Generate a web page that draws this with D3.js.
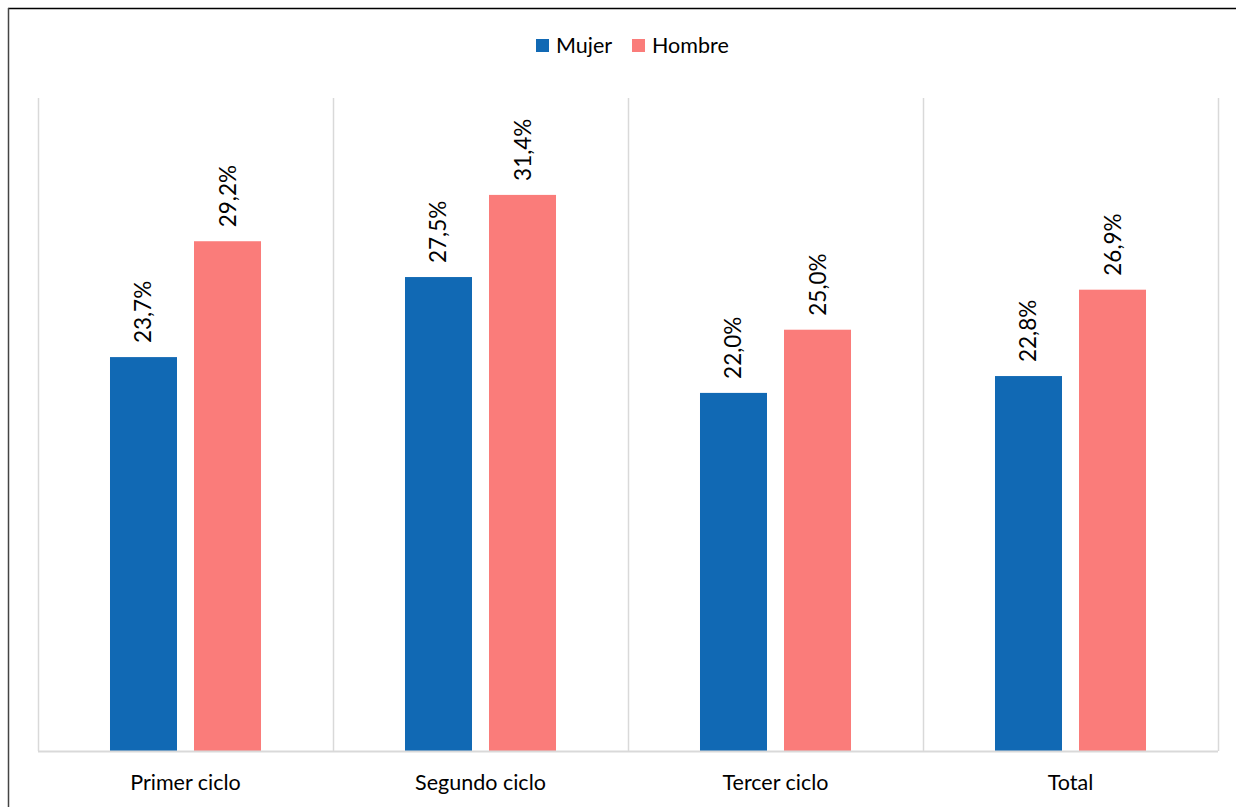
<!DOCTYPE html>
<html><head><meta charset="utf-8">
<script src="https://cdn.jsdelivr.net/npm/d3@7"></script>
<style>body{margin:0;background:#fff;}svg{display:block;font-family:Lato,"Open Sans",sans-serif;}</style>
</head><body>
<svg id="c" width="1236" height="807"></svg>
<script>
const categories = ["Primer ciclo","Segundo ciclo","Tercer ciclo","Total"];
const seriesNames = ["Mujer","Hombre"];
const mujer = [23.7, 27.5, 22.0, 22.8];
const hombre = [29.2, 31.4, 25.0, 26.9];
const colors = ["#1169B4","#FA7C7A"];

const svg = d3.select("#c");
const W = 1236, H = 807;
const m = {left:38, right:1218, top:98, bottom:751};

// frame
svg.append("line").attr("x1",8).attr("x2",W).attr("y1",8.5).attr("y2",8.5).attr("stroke","#000").attr("stroke-width",1.5);
svg.append("line").attr("x1",8.5).attr("x2",8.5).attr("y1",8).attr("y2",H).attr("stroke","#444").attr("stroke-width",1.5);

const x = d3.scaleBand().domain(categories).range([m.left, m.right]).padding(0);
const x1 = d3.scaleBand().domain(seriesNames).range([0, x.bandwidth()]).paddingInner(0.2024).paddingOuter(0.857);
const y = d3.scaleLinear().domain([5, 36]).range([m.bottom, m.top]);

// vertical separators
const bounds = categories.map(c => x(c)).concat([m.right]);
svg.append("g").selectAll("line").data(bounds).join("line")
  .attr("x1", d => Math.round(d)+0.5).attr("x2", d => Math.round(d)+0.5)
  .attr("y1", m.top).attr("y2", m.bottom)
  .attr("stroke","#d9d9d9").attr("stroke-width",1.5);

// bars
const data = categories.map((c,i)=>({cat:c, vals:[mujer[i], hombre[i]]}));
const g = svg.append("g").selectAll("g").data(data).join("g").attr("transform", d=>`translate(${x(d.cat)},0)`);
g.selectAll("rect").data(d => d.vals.map((v,j)=>({s:seriesNames[j], v, j}))).join("rect")
  .attr("x", d => x1(d.s)).attr("width", x1.bandwidth())
  .attr("y", d => y(d.v)).attr("height", d => m.bottom - y(d.v))
  .attr("fill", d => colors[d.j]);
g.selectAll("text").data(d => d.vals.map((v,j)=>({s:seriesNames[j], v, j}))).join("text")
  .attr("transform", d => `translate(${x1(d.s)+x1.bandwidth()/2+8},${y(d.v)-14}) rotate(-90)`)
  .attr("text-anchor","start").attr("font-size",22.5).attr("fill","#000")
  .text(d => d3.format(".1f")(d.v).replace(".",",") + "%");

// baseline axis
svg.append("line").attr("x1",m.left).attr("x2",m.right).attr("y1",m.bottom+0.5).attr("y2",m.bottom+0.5)
  .attr("stroke","#d9d9d9").attr("stroke-width",2);

// x labels
const xAxis = svg.append("g").attr("transform",`translate(0,${m.bottom})`).call(d3.axisBottom(x).tickSize(0).tickPadding(24));
xAxis.select(".domain").remove();
xAxis.selectAll("text").attr("font-size",21.5).attr("fill","#000").attr("font-family","Lato,'Open Sans',sans-serif");

// legend
const leg = svg.append("g");
const legItems = [{n:"Mujer", x:536},{n:"Hombre", x:632}];
legItems.forEach((it,i)=>{
  leg.append("rect").attr("x",it.x).attr("y",39).attr("width",13).attr("height",13).attr("fill",colors[i]);
  leg.append("text").attr("x",it.x+20).attr("y",53).attr("font-size",21.5).attr("fill","#000").text(it.n);
});
</script>
</body></html>
